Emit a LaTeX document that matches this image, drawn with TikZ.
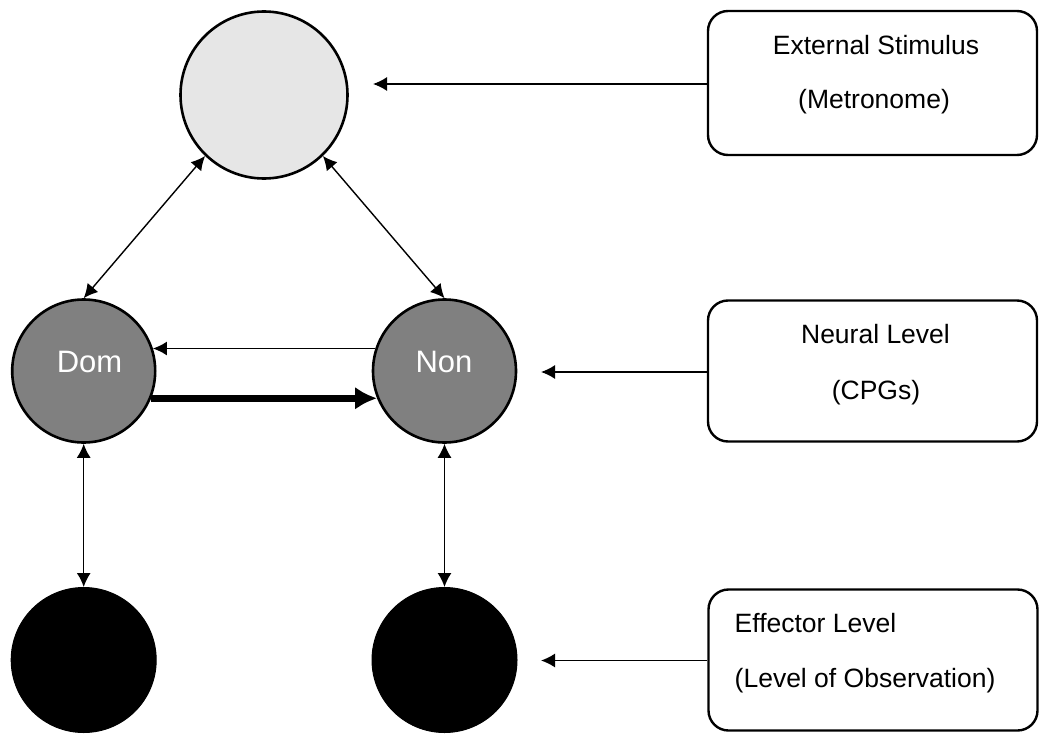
\documentclass[tikz,border=0pt]{standalone}
\usepackage{fontspec}
\setmainfont{Liberation Sans}
\usetikzlibrary{arrows.meta}
\definecolor{topfill}{HTML}{E6E6E6}
\definecolor{midfill}{HTML}{808080}
\tikzset{
  circ/.style={circle, draw=black, line width=2.6pt, inner sep=0pt},
  topcirc/.style={circ, fill=topfill, minimum size=167pt},
  midcirc/.style={circ, fill=midfill, minimum size=143pt},
  botcirc/.style={circle, fill=black, draw=black, line width=1pt, inner sep=0pt, minimum size=145pt},
  lvlbox/.style={draw=black, line width=2.4pt, rounded corners=20pt, minimum width=329pt, inner sep=0pt},
  boxtext/.style={font=\fontsize{26.5}{30}\selectfont, anchor=base, inner sep=0pt},
  circtext/.style={font=\fontsize{31}{34}\selectfont, text=white, anchor=base, inner sep=0pt},
  thinarr/.style={line width=1.4pt, -{Latex[length=14pt,width=14pt]}},
  dblarr/.style={line width=1.4pt, {Latex[length=14pt,width=14pt]}-{Latex[length=14pt,width=14pt]}},
  thickarr/.style={line width=7pt, -{Latex[length=22pt,width=23pt]}}
}
\begin{document}
\begin{tikzpicture}[x=1pt,y=-1pt]
\useasboundingbox (0,0) rectangle (1040,733);
% circles
\node[topcirc] (top) at (264,95) {};
\node[midcirc] (dom) at (83.7,371) {};
\node[midcirc] (non) at (444.5,371) {};
\node[botcirc] (bl) at (83.7,660) {};
\node[botcirc] (br) at (444.5,660) {};
\node[circtext] (domt) at (89.5,372.3) {Dom};
\node[circtext] (nont) at (444,372.3) {Non};
% boxes
\node[lvlbox, minimum height=144pt] (b1) at (872.5,83) {};
\node[lvlbox, minimum height=141pt] (b2) at (872.5,371) {};
\node[lvlbox, minimum height=141pt] (b3) at (873,660) {};
\node[boxtext] (b1a) at (876,54.5) {External Stimulus};
\node[boxtext] (b1b) at (874,108.5) {(Metronome)};
\node[boxtext] (b2a) at (875.5,343.5) {Neural Level};
\node[boxtext] (b2b) at (876,399) {(CPGs)};
\node[boxtext, anchor=base west] (b3a) at (734.5,632) {Effector Level};
\node[boxtext, anchor=base west] (b3b) at (734.5,687) {(Level of Observation)};
% free ends
\coordinate (e1) at (373,84);
\coordinate (e2) at (541,372);
\coordinate (e3) at (541,660.5);
% connectors
\draw[thinarr] (b1.west |- e1) -- (e1);
\draw[thinarr] (b2.west |- e2) -- (e2);
\draw[thinarr] (b3.west |- e3) -- (e3);
\draw[dblarr] (top.226.8) -- (dom.north);
\draw[dblarr] (top.314) -- (non.north);
\draw[thinarr] (non.162) -- (dom.18);
\draw[thickarr] (dom.-22) -- (non.202);
\draw[dblarr] (dom.south) -- (bl.north);
\draw[dblarr] (non.south) -- (br.north);
\end{tikzpicture}
\end{document}
